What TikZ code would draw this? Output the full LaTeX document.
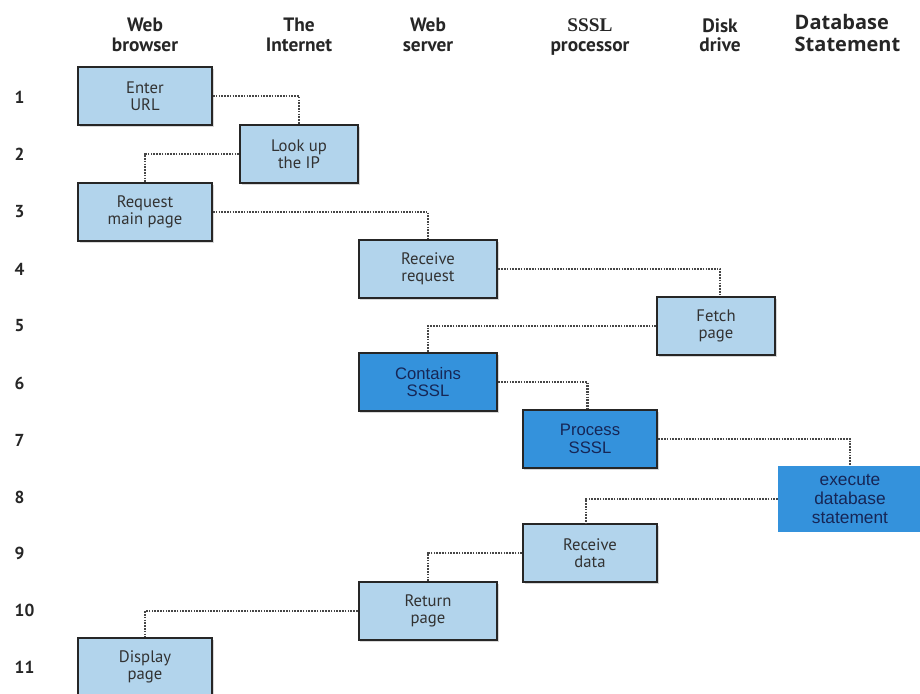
\documentclass[tikz,border=0pt]{standalone}
\usepackage{fontspec}
\setmainfont{PT Sans}
\newfontfamily\arialfont{Liberation Sans}
\newfontfamily\timesfont{Liberation Serif}
\newfontfamily\dbfont{Open Sans}
\usetikzlibrary{positioning,shadows}
\definecolor{paleblue}{RGB}{178,212,236}
\definecolor{deepblue}{RGB}{52,146,220}
\definecolor{boxtext}{RGB}{50,50,50}
\definecolor{navytext}{RGB}{22,38,86}
\definecolor{dotgrey}{RGB}{70,70,70}

\tikzset{
  stepbox/.style={draw=black!85, line width=1.6pt, fill=paleblue, text=boxtext, align=center,
    font=\fontsize{12.5}{12.5}\selectfont, minimum height=43.5pt, inner sep=0pt,
    drop shadow={shadow xshift=1.2pt, shadow yshift=-1.2pt, opacity=0.3}},
  hotbox/.style={stepbox, fill=deepblue, text=navytext, font=\arialfont\fontsize{12.5}{13}\selectfont},
  dbbox/.style={fill=deepblue, text=navytext, align=center, inner sep=0pt,
    font=\arialfont\fontsize{13}{14}\selectfont, minimum height=50pt},
  colhead/.style={align=center, text=black!85, font=\bfseries\fontsize{14.5}{14.5}\selectfont},
  rownum/.style={text=black!85, font=\bfseries\fontsize{13}{13}\selectfont},
  wire/.style={dotgrey, line width=1.9pt, dash pattern=on 1.2pt off 0.9pt},
}

\begin{document}
\begin{tikzpicture}[x=0.75pt,y=0.75pt,yscale=-1,xscale=1]
\useasboundingbox (0,0) rectangle (920,693);
\fill[white] (0,0) rectangle (920,693);

% column heads
\node[colhead] (hbrowser) at (145,35) {Web\\browser};
\node[colhead] (hnet) at (299,35) {The\\Internet};
\node[colhead] (hserver) at (428,35) {Web\\server};
\node[colhead] (hsssl) at (590,37) {{\timesfont SSSL}\\processor};
\node[colhead] (hdisk) at (720,35) {Disk\\drive};
\node[colhead, anchor=west, align=left, font=\dbfont\bfseries\fontsize{15}{17}\selectfont] (hdb) at (790,33) {Database\\Statement};

% row numbers
\foreach \n/\y in {1/97,2/154,3/212,4/269,5/326,6/383,7/440,8/497,9/553,10/610,11/667}
  \node[rownum, anchor=west] (row\n) at (10,\y) {\n};

% steps
\node[stepbox, minimum width=100.5pt] (url) at (145,96) {Enter\\URL};
\node[stepbox, minimum width=88.5pt] (ip) at (299,154) {Look up\\the IP};
\node[stepbox, minimum width=100.5pt] (req) at (145,212) {Request\\main page};
\node[stepbox, minimum width=104pt] (recv) at (428,269) {Receive\\request};
\node[stepbox, minimum width=88.5pt] (fetch) at (716,326) {Fetch\\page};
\node[hotbox, minimum width=104pt] (contains) at (428,382) {Contains\\SSSL};
\node[hotbox, minimum width=101pt] (process) at (590,439) {Process\\SSSL};
\node[dbbox, minimum width=108pt] (exec) at (850,499) {execute\\database\\statement};
\node[stepbox, minimum width=100.5pt] (rdata) at (590,553) {Receive\\data};
\node[stepbox, minimum width=104pt] (ret) at (428,611) {Return\\page};
\node[stepbox, minimum width=100.5pt] (disp) at (145,667) {Display\\page};

% dotted links
\draw[wire] (url.east) -| (ip.north);
\draw[wire] (ip.west) -| (req.north);
\draw[wire] (req.east) -| (recv.north);
\draw[wire] (recv.east) -| ([xshift=3pt]fetch.north);
\draw[wire] (fetch.west) -| (contains.north);
\draw[wire] (contains.east) -| ([xshift=-2pt]process.north);
\draw[wire] (process.east) -| (exec.north);
\draw[wire] (exec.west) -| ([xshift=-3pt]rdata.north);
\draw[wire] (rdata.west) -| (ret.north);
\draw[wire] (ret.west) -| (disp.north);
\end{tikzpicture}
\end{document}
